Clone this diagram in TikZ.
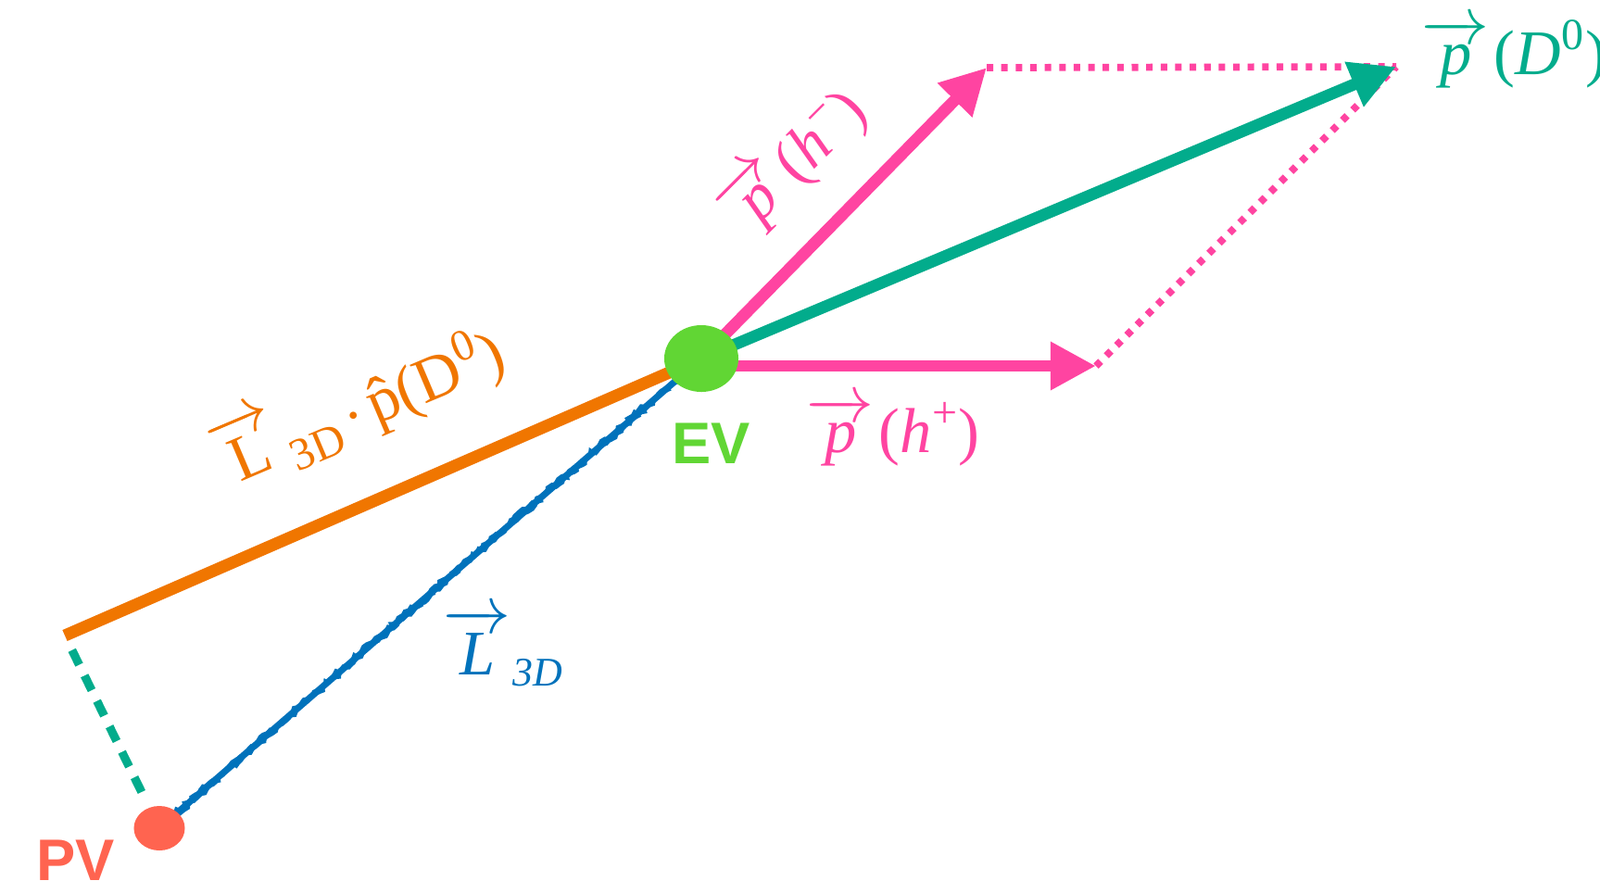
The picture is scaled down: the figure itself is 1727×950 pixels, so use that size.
\documentclass[tikz,border=0pt]{standalone}
\usepackage{amsmath}
\usepackage{fontspec}
\setmainfont{Liberation Serif}
\newfontfamily\vtxfont{Liberation Sans}
\usetikzlibrary{arrows.meta,shapes.geometric,backgrounds,decorations.pathmorphing}

\definecolor{hpink}{RGB}{255,68,161}
\definecolor{dgreen}{RGB}{2,172,140}
\definecolor{lorange}{RGB}{240,118,0}
\definecolor{lblue}{RGB}{0,114,187}
\definecolor{evgreen}{RGB}{97,214,52}
\definecolor{pvred}{RGB}{255,100,80}

\begin{document}
\begin{tikzpicture}[x=0.01cm,y=-0.01cm,
    vtx/.style={ellipse,inner sep=0pt},
    vtxlabel/.style={font=\vtxfont\bfseries\fontsize{18}{18}\selectfont,inner sep=0pt,anchor=base west},
    mlabel/.style={font=\fontsize{19.5}{22}\selectfont,inner sep=0pt,anchor=base west},
    momarrow/.style={line width=3.6pt,-{Triangle[length=14pt,width=14pt]}},
    pinkdots/.style={hpink,line width=2.2pt,dash pattern=on 2pt off 2.45pt},
    chalk/.style={lblue,line width=0.8pt,decorate,decoration={random steps,segment length=1.2pt,amplitude=0.7pt}}]
    \useasboundingbox (0,0) rectangle (1727,950);
    % vertices
    \node[vtx,fill=evgreen,minimum width=0.8cm,minimum height=0.72cm] (ev) at (757,387) {};
    \node[vtx,fill=pvred,minimum width=0.55cm,minimum height=0.48cm] (pv) at (172,894) {};
    \node[vtxlabel,evgreen] (evlabel) at (725,500) {EV};
    \node[vtxlabel,pvred] (pvlabel) at (39,950) {PV};
    \coordinate (lend) at (70,686);
    \coordinate (hm) at (1065,73);
    \coordinate (hp) at (1183,395);
    \coordinate (d0) at (1507,72);
    \begin{pgfonlayer}{background}
        \draw[lorange,line width=3.7pt] (lend) -- (ev.center);
        \draw[dgreen,line width=2.6pt,dash pattern=on 5pt off 3.7pt,shorten <=5pt,shorten >=3pt] (lend) -- (pv);
        \draw[lblue,line width=2pt] (pv.center) -- (ev.center);
        \draw[chalk] ([yshift=0.8pt]pv.center) -- ([yshift=0.8pt]ev.center);
        \draw[chalk] ([yshift=-0.8pt]pv.center) -- ([yshift=-0.8pt]ev.center);
        \draw[pinkdots] (hm) -- (d0);
        \draw[pinkdots] (hp) -- (d0);
        \draw[momarrow,hpink] (ev.center) -- (hm);
        \draw[momarrow,hpink] (ev.center |- hp) -- (hp);
        \draw[momarrow,dgreen] (ev.center) -- (d0);
    \end{pgfonlayer}
    % momenta
    \node[mlabel,dgreen] (d0label) at (1534,80) {$\overrightarrow{\mbox{\itshape p}}$\kern1.5pt(\textit{D}\textsuperscript{0})};
    \node[mlabel,hpink] (hplabel) at (870,488) {$\overrightarrow{\mbox{\itshape p}}$\kern1.5pt(\textit{h}\textsuperscript{+})};
    \node[mlabel,hpink,rotate=45] (hmlabel) at (806,256) {$\overrightarrow{\mbox{\itshape p}}$\kern1.5pt(\textit{h}\textsuperscript{−})};
    % flight distance
    \node[mlabel,lorange,rotate=23] (projlabel) at (245,527) {$\overrightarrow{\mbox{L}}$\kern1pt\raisebox{-0.2em}{\fontsize{14}{14}\selectfont 3D}\kern2.5pt$\cdot$\kern2.5pt\^{p}(D\textsuperscript{0})};
    \node[mlabel,lblue] (l3dlabel) at (478,728) {$\overrightarrow{\mbox{\itshape L}}$\kern0.5pt\raisebox{-0.18em}{\fontsize{12.5}{12.5}\selectfont\itshape 3D}};
\end{tikzpicture}
\end{document}
